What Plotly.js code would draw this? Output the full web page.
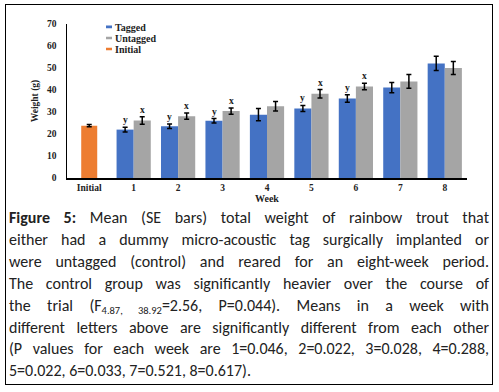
<!DOCTYPE html>
<html>
<head>
<meta charset="utf-8">
<script src="https://cdn.plot.ly/plotly-3.0.1.min.js"></script>
<style>
  html, body { margin: 0; padding: 0; background: #fff; }
  #wrap { position: relative; width: 499px; height: 392px; overflow: hidden; }
  #frame { position: absolute; left: 5px; top: 4px; width: 486px; height: 379px; border: 1.5px solid #000; box-sizing: content-box; }
  #chart { position: absolute; left: 0; top: 0; width: 499px; height: 210px; }
  #caption { position: absolute; left: 9px; top: 207px; width: 480px; font-family: Carlito, Calibri, Lato, "Liberation Sans", sans-serif; font-size: 16px; line-height: 21.9px; color: #222; }
  #caption .ln { display: block; text-align: justify; text-align-last: justify; white-space: nowrap; }
  #caption .ln.last { text-align-last: left; }
  #caption sub { font-size: 10.5px; vertical-align: -3px; line-height: 0; }
  #chart .legendpoints path { transform: translate(34px, 0px) scale(0.5, 0.22); }
</style>
</head>
<body>
<div id="wrap">
  <div id="frame"></div>
  <div id="chart"></div>
  <div id="caption">
    <span class="ln"><b>Figure 5:</b> Mean (SE bars) total weight of rainbow trout that</span>
    <span class="ln">either had a dummy micro-acoustic tag surgically implanted or</span>
    <span class="ln">were untagged (control) and reared for an eight-week period.</span>
    <span class="ln">The control group was significantly heavier over the course of</span>
    <span class="ln">the trial (F<sub>4.87, 38.92</sub>=2.56, P=0.044). Means in a week with</span>
    <span class="ln">different letters above are significantly different from each other</span>
    <span class="ln">(P values for each week are 1=0.046, 2=0.022, 3=0.028, 4=0.288,</span>
    <span class="ln last">5=0.022, 6=0.033, 7=0.521, 8=0.617).</span>
  </div>
</div>
<script>
// ---- data ----
const categories = ['Initial', '1', '2', '3', '4', '5', '6', '7', '8'];
const weeks = ['1', '2', '3', '4', '5', '6', '7', '8'];
const tagged = [22.0, 23.5, 26.0, 28.8, 31.6, 36.1, 41.1, 52.1];
const taggedSE = [1.1, 1.0, 1.0, 2.8, 1.4, 1.7, 2.3, 3.2];
const untagged = [26.1, 28.1, 30.4, 32.6, 38.3, 41.6, 43.9, 50.0];
const untaggedSE = [1.7, 1.4, 1.4, 2.2, 1.9, 1.5, 3.1, 3.0];
const initialLabel = ['Initial'];
const initialValue = [23.8];
const initialSE = [0.5];
const taggedLetters = ['y', 'y', 'y', '', 'y', 'y', '', ''];
const untaggedLetters = ['x', 'x', 'x', '', 'x', 'x', '', ''];
const yTicks = [0, 10, 20, 30, 40, 50, 60, 70];

// ---- styling ----
const serif = '"Liberation Serif", "Times New Roman", serif';
const BW = 0.385;
const errStyle = (arr) => ({ type: 'data', array: arr, visible: true, color: '#000', thickness: 1.5, width: 2.5 });
const legFont = { family: serif, size: 10, color: '#222', weight: 'bold' };
const legBase = { x: 0.02, xanchor: 'left', yanchor: 'middle', bgcolor: 'rgba(0,0,0,0)', font: legFont, itemwidth: 30 };
const axFont = { family: serif, size: 9.5, color: '#222', weight: 'bold' };

const traces = [
  { type: 'bar', name: 'Tagged', x: weeks, y: tagged, error_y: errStyle(taggedSE),
    marker: { color: '#4472C4' }, width: BW, offset: -BW, legend: 'legend' },
  { type: 'bar', name: 'Untagged', x: weeks, y: untagged, error_y: errStyle(untaggedSE),
    marker: { color: '#A5A5A5' }, width: BW, offset: 0, legend: 'legend2' },
  { type: 'bar', name: 'Initial', x: initialLabel, y: initialValue, error_y: errStyle(initialSE),
    marker: { color: '#ED7D31' }, width: 0.36, offset: -0.18, legend: 'legend3' }
];

const annotations = [];
weeks.forEach((w, i) => {
  if (taggedLetters[i]) annotations.push({ x: categories.indexOf(w) - BW / 2, y: tagged[i] + taggedSE[i],
    xref: 'x', yref: 'y', text: taggedLetters[i], showarrow: false, yanchor: 'bottom', yshift: 0,
    font: { family: serif, size: 9.5, color: '#222', weight: 'bold' } });
  if (untaggedLetters[i]) annotations.push({ x: categories.indexOf(w) + BW / 2, y: untagged[i] + untaggedSE[i],
    xref: 'x', yref: 'y', text: untaggedLetters[i], showarrow: false, yanchor: 'bottom', yshift: 0,
    font: { family: serif, size: 9.5, color: '#222', weight: 'bold' } });
});

const layout = {
  width: 499, height: 210,
  margin: { l: 67, r: 32, t: 24, b: 32 },
  paper_bgcolor: 'rgba(0,0,0,0)', plot_bgcolor: '#fff',
  barmode: 'overlay',
  showlegend: true,
  legend: Object.assign({}, legBase, { y: 0.981 }),
  legend2: Object.assign({}, legBase, { y: 0.909 }),
  legend3: Object.assign({}, legBase, { y: 0.838 }),
  xaxis: {
    type: 'category', categoryorder: 'array', categoryarray: categories,
    range: [-0.5, 8.5],
    showline: true, linecolor: '#000', linewidth: 1.5, showgrid: false, zeroline: false,
    ticks: '', tickfont: axFont,
    title: { text: 'Week', font: { family: serif, size: 10, color: '#222', weight: 'bold' }, standoff: 2 }
  },
  yaxis: {
    range: [0, 70], tickvals: yTicks, ticktext: yTicks.map(String),
    showline: true, linecolor: '#000', linewidth: 1.5, showgrid: false, zeroline: false,
    ticks: 'outside', ticklen: 7, tickcolor: 'rgba(0,0,0,0)',
    tickfont: axFont,
    title: { text: 'Weight (g)', font: { family: serif, size: 9.5, color: '#222', weight: 'bold' }, standoff: 7 }
  },
  annotations: annotations
};

Plotly.newPlot('chart', traces, layout, { displayModeBar: false, staticPlot: true });
</script>
</body>
</html>
